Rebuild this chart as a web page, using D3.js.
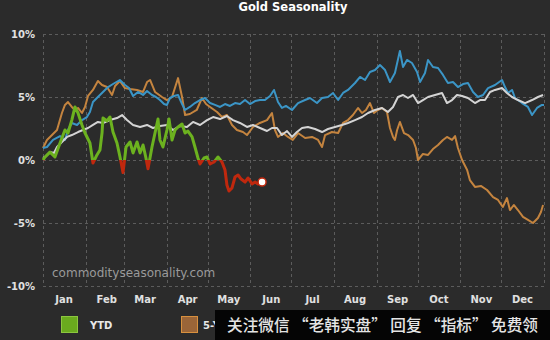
<!DOCTYPE html>
<html>
<head>
<meta charset="utf-8">
<script src="https://cdn.jsdelivr.net/npm/d3@7"></script>
<style>
  html, body { margin: 0; padding: 0; background: #2b2b2b; }
  svg { display: block; }
</style>
</head>
<body>
<svg id="chart" width="550" height="340"></svg>
<script>
// Day of year (0 = Jan 1) and cumulative % change for each series
const ytd = [[0,0],[1.5,0.24],[5.1,0.63],[8.7,0.24],[12.4,1.35],[16,2.38],[18.2,2.14],[21,3.17],[23.3,4.21],[25.5,3.73],[28.4,2.78],[30.6,2.14],[34.2,1.35],[36.4,-0.24],[39.3,0.4],[41.5,0.79],[43,2.14],[43.7,3.33],[46.6,3.1],[48.8,3.41],[51,2.22],[53.9,1.35],[56.1,0.24],[58.3,-1.0],[60.5,1.03],[63.4,1.43],[65.6,0.56],[68.5,1.43],[70.7,0.56],[72.9,1.19],[75,0.16],[76.5,-0.7],[79.4,1.03],[81.6,2.14],[83.8,3.25],[85.2,1.59],[87.4,1.03],[90.3,2.38],[91.8,3.25],[94,1.59],[96.2,2.38],[98.4,2.62],[101.3,2.86],[103.5,2.14],[105.6,2.3],[108.6,1.83],[110.7,1.03],[112.9,0.16],[114.4,-0.32],[117.3,0.16],[119.5,0.24],[121.7,-0.32],[124.6,-0.16],[127.5,0.24],[130.4,-0.16],[132.6,-0.79],[134,-1.98],[135.5,-2.46],[137.7,-2.22],[139.9,-1.35],[142.1,-1.19],[144.3,-1.51],[147.2,-1.75],[149.4,-1.43],[152.3,-1.9],[154.5,-1.75],[156.6,-1.9],[159.6,-1.75]];

const fiveYear = [[0,0.95],[2.9,1.59],[5.1,1.83],[10.2,2.38],[13.8,3.73],[16,4.37],[18.2,4.6],[21,4.21],[23.3,3.97],[25.5,4.13],[28.4,3.73],[30.6,4.21],[32.8,5.08],[36.4,5.56],[40,6.27],[43,5.95],[46.6,5.79],[50.3,5.16],[52.5,5.87],[56,6.27],[59.7,5.71],[63.4,5.63],[68.5,5.56],[72.9,5.4],[75.8,6.19],[78,6.35],[81.6,5.4],[86.7,5.0],[90.3,4.76],[94,5.0],[98.4,6.5],[101.3,5.0],[103.5,3.57],[107,3.65],[112,3.97],[115.8,4.92],[118.8,4.44],[121.7,4.21],[126.8,3.81],[130.4,3.41],[134,3.57],[137.7,2.78],[141.3,2.38],[145.7,2.22],[148.6,1.98],[153,2.62],[158,2.94],[163.2,3.17],[166.8,3.73],[169,2.38],[171.2,1.83],[174.8,2.14],[178.5,1.83],[182,1.59],[185.8,2.14],[191,1.75],[196,1.83],[200.4,1.59],[203.3,1.03],[205.5,1.98],[210.5,2.22],[215,2.14],[218.6,2.94],[222.2,3.17],[225.8,3.57],[229.5,4.13],[232.4,3.73],[235.3,3.97],[238.2,4.52],[241.1,3.73],[244,3.97],[247,4.13],[250.6,3.81],[252.8,2.54],[255,1.83],[256.4,1.59],[258,2.38],[260,3.02],[263,2.14],[266,1.98],[269.6,1.59],[271.7,0.95],[273.2,0],[276.8,0.48],[280.5,0.4],[284.1,0.87],[287.8,1.19],[291.4,1.59],[294.3,1.83],[298,1.59],[300.2,1.9],[302.3,0.95],[305.3,0],[309,-0.79],[311,-1.59],[314.7,-2.14],[319,-2.06],[323.5,-2.38],[327.9,-2.94],[331.5,-3.17],[335,-3.73],[338,-3.02],[340.2,-3.97],[343,-3.57],[346,-3.97],[349.7,-4.52],[353.3,-4.76],[357,-5.0],[360.6,-4.6],[362.8,-4.13],[364.3,-3.57]];

const fifteenYear = [[0,0.95],[2.9,1.03],[7.3,1.59],[12.4,1.9],[16,1.59],[18.2,2.38],[21,2.94],[24.8,2.78],[28.4,3.17],[32,3.41],[34.2,3.81],[36.4,4.6],[40,5.0],[43.7,5.4],[47.4,5.79],[51,6.03],[56,6.35],[59.7,5.95],[62.7,5.71],[65.6,5.08],[69.2,5.4],[72.9,5.16],[75.8,5.48],[79.4,5.16],[82.3,5.0],[85.2,4.76],[88.2,4.44],[90.3,4.37],[92.5,4.92],[95.4,5.08],[98.4,5.16],[101.3,4.44],[103.5,3.97],[107,4.21],[110.7,4.52],[114.4,4.76],[118,4.92],[121.7,4.52],[125.3,4.37],[129,4.21],[132.6,4.44],[136.2,4.29],[139.9,4.52],[143.5,4.44],[147.2,4.76],[150.8,4.44],[154.5,4.68],[158.1,4.76],[161.7,4.76],[165.4,5.08],[168.3,5.56],[171.2,4.6],[174.1,4.13],[177,4.29],[181.4,3.97],[185.8,4.52],[190.9,4.76],[194.5,4.92],[199.6,4.52],[203.3,4.92],[207.6,5.0],[211.3,5.32],[215,4.76],[218.6,5.32],[222.2,5.56],[227.3,6.11],[231,6.59],[234.6,6.35],[238.2,6.98],[241.9,7.14],[245.5,7.54],[249.2,7.14],[252.8,6.19],[256.4,6.9],[260,8.65],[262.3,7.38],[265.2,7.94],[268.8,7.7],[272.5,6.98],[274.7,6.19],[278.3,6.9],[280.5,7.94],[284.1,7.38],[287.8,7.3],[291.4,6.75],[295,6.11],[298.7,6.19],[302.3,5.79],[306,6.03],[309.6,6.11],[313.3,5.4],[316.9,5.0],[320.6,5.16],[324.2,5.71],[329.3,5.95],[334.4,6.35],[336.6,5.79],[338.8,5.32],[341.7,5.56],[343.9,4.92],[349,4.52],[353.3,4.21],[356.3,3.57],[359.9,4.13],[363.5,4.37],[365,4.37]];

const thirtyYear = [[0,0.16],[1.5,0.24],[5.1,0.63],[8,0.56],[10.2,1.03],[13.8,1.43],[17.5,1.83],[21,1.98],[25.5,2.22],[29.1,2.38],[32.8,2.54],[36.4,2.78],[40,3.02],[43.7,2.94],[48.8,3.17],[53.9,3.33],[57.6,3.57],[61.2,3.17],[65.6,2.78],[70.7,2.62],[75.8,2.78],[80.1,2.54],[85.2,2.7],[90.3,2.78],[94.7,2.38],[99.8,2.7],[104.9,2.62],[109.3,3.02],[114.4,2.78],[119.5,3.17],[123.9,3.41],[129,3.25],[134,3.49],[138.4,3.17],[143.5,2.94],[148.6,2.62],[153,2.78],[158.1,2.54],[163.2,2.3],[166.8,2.54],[170.5,2.54],[174.1,1.98],[177.8,2.3],[181.4,1.83],[185,2.22],[188.7,2.54],[193,2.62],[198.2,2.46],[203.3,2.22],[207.6,2.46],[212.7,2.62],[217.8,2.78],[222.2,2.94],[227.3,3.17],[232.4,3.41],[236.8,3.73],[241.9,3.97],[247,4.13],[251.3,3.81],[255,4.21],[258.6,5.0],[262.3,5.16],[265.9,4.92],[269.6,5.16],[273.2,4.52],[276.8,4.76],[280.5,5.0],[285.6,5.16],[290.7,5.32],[294.3,4.52],[298,4.76],[301.6,5.16],[305.3,5.08],[309.6,4.92],[314.7,4.52],[318.4,4.76],[322,4.76],[325.7,5.4],[329.3,5.56],[334.4,5.71],[338,5.32],[341.7,5.0],[346,4.76],[351.2,4.52],[356.3,4.76],[360.6,5.0],[364.3,5.16]];

const yTicks = [10, 5, 0, -5, -10];
const legendItems = [
  { label: "YTD", fill: "#6aaa1e", stroke: "#8cc63f" },
  { label: "5-Y", fill: "#9a6538", stroke: "#d8903e" }
];

(function draw() {
  const svg = d3.select("#chart");
  const W = 550, H = 340;
  const plotLeft = 43, plotRight = 544, plotTop = 34, plotBottom = 286;
  const bannerX = 215, bannerY = 310;

  const yearStart = new Date(2019, 0, 1);
  const yearEnd = new Date(2020, 0, 1);
  const dayToDate = d => new Date(yearStart.getTime() + d * 864e5);

  const x = d3.scaleTime().domain([yearStart, yearEnd]).range([plotLeft, plotRight]);
  const y = d3.scaleLinear().domain([-10, 10]).range([plotBottom, plotTop]);

  svg.append("rect").attr("width", W).attr("height", H).attr("fill", "#2b2b2b");

  // Title
  svg.append("text")
    .attr("x", 293).attr("y", 10.5)
    .attr("text-anchor", "middle")
    .attr("fill", "#ffffff")
    .style("font", "bold 11.5px 'DejaVu Sans', sans-serif")
    .text("Gold Seasonality");

  // Dashed grid
  const grid = svg.append("g").attr("stroke", "#5c5c5c").attr("stroke-dasharray", "3,3").attr("stroke-width", 1);
  grid.selectAll("line.h").data(yTicks).join("line")
    .attr("x1", plotLeft).attr("x2", plotRight)
    .attr("y1", d => Math.round(y(d)) + 0.5).attr("y2", d => Math.round(y(d)) + 0.5);
  const monthStarts = d3.timeMonth.range(yearStart, d3.timeDay.offset(yearEnd, 1));
  grid.selectAll("line.v").data(monthStarts).join("line")
    .attr("x1", d => Math.round(x(d)) + 0.5).attr("x2", d => Math.round(x(d)) + 0.5)
    .attr("y1", plotTop).attr("y2", plotBottom);

  // Y axis labels
  const yAxis = d3.axisLeft(y).tickValues(yTicks).tickSize(0).tickPadding(8).tickFormat(d => d + "%");
  const gy = svg.append("g").attr("transform", `translate(${plotLeft},0)`).call(yAxis);
  gy.select(".domain").remove();
  gy.selectAll("text").attr("fill", "#e0e0e0").style("font", "bold 10px 'DejaVu Sans', sans-serif");

  // X axis: month names centred in each month
  const midMonths = monthStarts.slice(0, 12).map(d => new Date(d.getFullYear(), d.getMonth(), 16));
  const xAxis = d3.axisBottom(x).tickValues(midMonths).tickSize(0).tickPadding(10).tickFormat(d3.timeFormat("%b"));
  const gx = svg.append("g").attr("transform", `translate(0,${plotBottom})`).call(xAxis);
  gx.select(".domain").remove();
  gx.selectAll("text").attr("fill", "#e0e0e0").style("font", "bold 10px 'DejaVu Sans', sans-serif");

  // Site watermark
  svg.append("text")
    .attr("x", 52).attr("y", 277)
    .attr("fill", "#9a9a9a")
    .style("font", "12px 'DejaVu Sans', sans-serif")
    .text("commodityseasonality.com");

  const line = d3.line().x(d => x(dayToDate(d[0]))).y(d => y(d[1]));

  const lines = svg.append("g").attr("fill", "none").attr("stroke-linejoin", "round");
  lines.append("path").datum(fiveYear).attr("d", line).attr("stroke", "#c4843f").attr("stroke-width", 2);
  lines.append("path").datum(fifteenYear).attr("d", line).attr("stroke", "#3b95c6").attr("stroke-width", 2);
  lines.append("path").datum(thirtyYear).attr("d", line).attr("stroke", "#d4d4d4").attr("stroke-width", 2);

  // YTD: green above zero, red below
  const defs = svg.append("defs");
  defs.append("clipPath").attr("id", "above").append("rect")
    .attr("x", 0).attr("y", 0).attr("width", W).attr("height", y(0));
  defs.append("clipPath").attr("id", "below").append("rect")
    .attr("x", 0).attr("y", y(0)).attr("width", W).attr("height", H - y(0));
  lines.append("path").datum(ytd).attr("d", line).attr("stroke", "#6cb21f").attr("stroke-width", 3).attr("clip-path", "url(#above)");
  lines.append("path").datum(ytd).attr("d", line).attr("stroke", "#c0280e").attr("stroke-width", 3).attr("clip-path", "url(#below)");

  const last = ytd[ytd.length - 1];
  svg.append("circle")
    .attr("cx", x(dayToDate(last[0]))).attr("cy", y(last[1])).attr("r", 4)
    .attr("fill", "#ffffff").attr("stroke", "#c0280e").attr("stroke-width", 1.5);

  // Legend
  const lg = svg.append("g");
  const legendX = [61, 181];
  const labelOffset = [29, 22];
  legendItems.forEach((it, i) => {
    const g = lg.append("g").attr("transform", `translate(${legendX[i]},316)`);
    g.append("rect").attr("x", 0.5).attr("y", 0.5).attr("width", 16).attr("height", 16)
      .attr("fill", it.fill).attr("stroke", it.stroke);
    g.append("text").attr("x", labelOffset[i]).attr("y", 13)
      .attr("fill", "#e8e8e8")
      .style("font", "bold 10px 'DejaVu Sans', sans-serif")
      .text(it.label);
  });

  // Caption banner along the bottom edge
  svg.append("rect").attr("x", bannerX).attr("y", bannerY).attr("width", W - bannerX).attr("height", H - bannerY).attr("fill", "#050505");
  svg.append("text")
    .attr("x", 227).attr("y", 331)
    .attr("fill", "#e4e4e4")
    .attr("textLength", 311)
    .attr("lengthAdjust", "spacingAndGlyphs")
    .style("font", "500 16px 'Noto Sans CJK SC', sans-serif")
    .text("关注微信 “老韩实盘” 回复 “指标” 免费领");
})();
</script>
</body>
</html>
